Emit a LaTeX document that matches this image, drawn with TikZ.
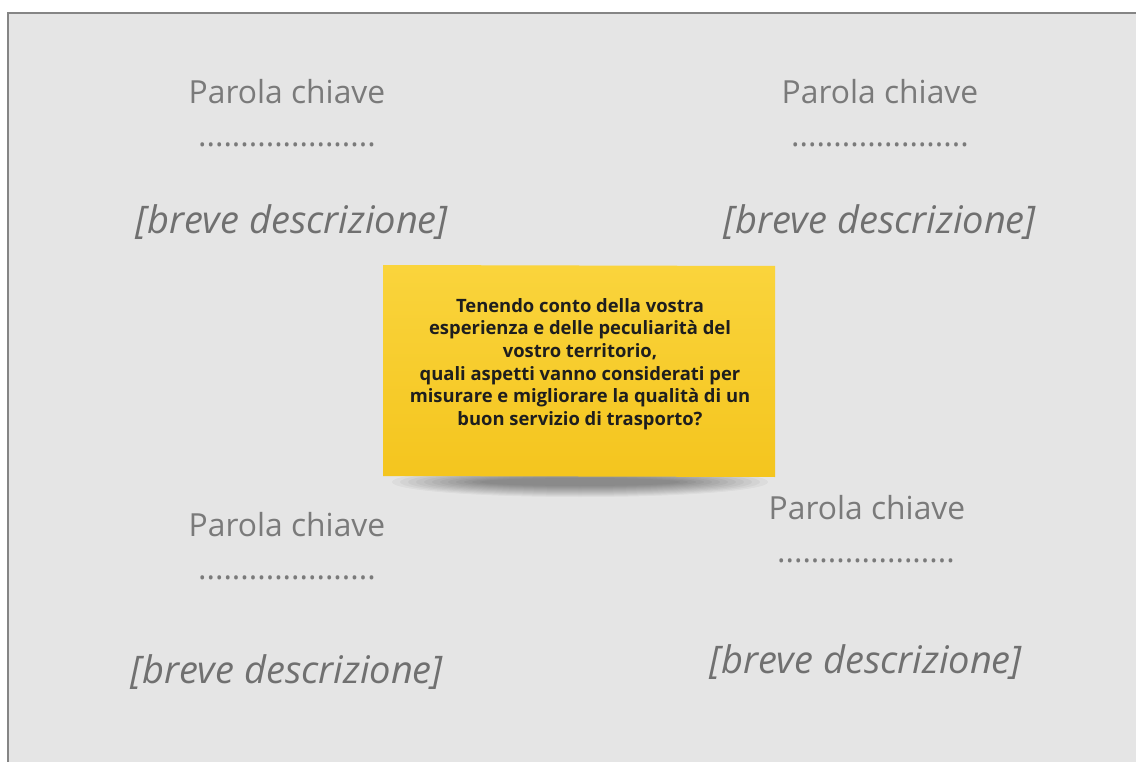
\documentclass[tikz,border=0pt]{standalone}
\usepackage{fontspec}
\setmainfont{Open Sans}
\definecolor{bgfill}{HTML}{E5E5E5}
\definecolor{framec}{HTML}{858585}
\definecolor{keyc}{HTML}{7A7A7A}
\definecolor{descc}{HTML}{707070}
\definecolor{noteA}{HTML}{FAD43C}
\definecolor{noteB}{HTML}{F4C51E}
\definecolor{notetxt}{HTML}{1E1E1E}
\tikzset{
  keyword/.style={text=keyc, font=\fontsize{31.8}{38}\selectfont, inner sep=0pt},
  dotline/.style={text=keyc, font=\fontsize{31.8}{38}\selectfont, inner sep=0pt},
  desc/.style={text=descc, font=\fontsize{38}{44}\selectfont\itshape, inner sep=0pt},
  note/.style={text=notetxt, font=\fontsize{18.4}{22.6}\selectfont\bfseries, align=center, inner sep=0pt},
}
\begin{document}
\begin{tikzpicture}[x=1pt,y=-1pt]
\useasboundingbox (0,0) rectangle (1136,762);
\clip (0,0) rectangle (1136,762);
\fill[white] (0,0) rectangle (1136,762);
\draw[framec, line width=2.2pt, fill=bgfill] (8,13) rectangle (1150,780);
% shadow
\foreach \i in {0,...,11}{
  \fill[black, opacity=0.04] (580,482) ellipse ({188-8*\i} and {15-1*\i});
}
\shade[top color=noteA, bottom color=noteB] (383,265) -- (775,266) -- (775,477) -- (383,476) -- cycle;
\node[note] (q) at (580,364) {Tenendo conto della vostra\\esperienza e delle peculiarità del\\vostro territorio,\\quali aspetti vanno considerati per\\misurare e migliorare la qualità di un\\buon servizio di trasporto?};
% top left
\node[keyword] (k1) at (287,92) {Parola chiave};
\node[dotline] (d1) at (287,145) {.....................};
\node[desc] (e1) at (292,222) {[breve descrizione]};
% top right
\node[keyword] (k2) at (880,92) {Parola chiave};
\node[dotline] (d2) at (880,145) {.....................};
\node[desc] (e2) at (880,222) {[breve descrizione]};
% bottom left
\node[keyword] (k3) at (287,525) {Parola chiave};
\node[dotline] (d3) at (287,578) {.....................};
\node[desc] (e3) at (287,672) {[breve descrizione]};
% bottom right
\node[keyword] (k4) at (867,508) {Parola chiave};
\node[dotline] (d4) at (866,561) {.....................};
\node[desc] (e4) at (866,662) {[breve descrizione]};
\end{tikzpicture}
\end{document}
